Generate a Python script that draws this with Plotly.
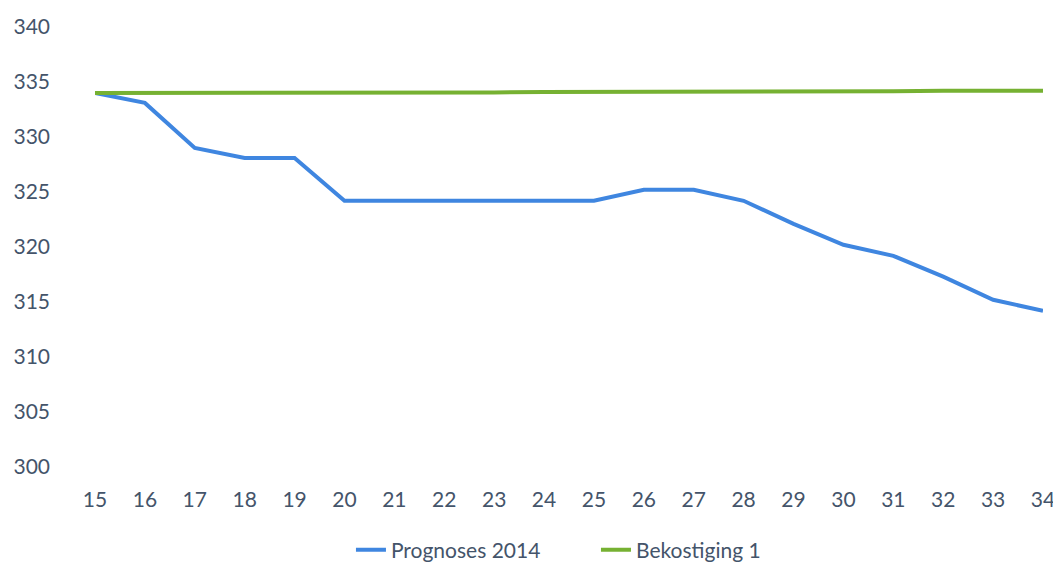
import plotly.graph_objects as go

years = list(range(15, 35))
prognoses_2014 = [334, 333.1, 329, 328.1, 328.1, 324.2, 324.2, 324.2, 324.2, 324.2,
                  324.2, 325.2, 325.2, 324.2, 322.1, 320.2, 319.2, 317.3, 315.2, 314.2]
bekostiging_1 = [334, 334, 334, 334, 334, 334, 334.05, 334.05, 334.05, 334.1,
                 334.1, 334.1, 334.1, 334.1, 334.15, 334.15, 334.15, 334.2, 334.2, 334.2]
y_ticks = [300, 305, 310, 315, 320, 325, 330, 335, 340]

txt = "#44546A"
font = "Lato, Calibri, 'Noto Sans', sans-serif"

fig = go.Figure()
fig.add_trace(go.Scatter(x=years, y=prognoses_2014, mode="lines", name="Prognoses 2014",
                         line=dict(color="#3F86E0", width=4)))
fig.add_trace(go.Scatter(x=years, y=bekostiging_1, mode="lines", name="Bekostiging 1",
                         line=dict(color="#76B132", width=4)))

# page body has an 8px margin, so the figure is sized/offset to compensate
fig.update_layout(
    width=1053, height=554,
    margin=dict(l=87, r=18, t=19, b=95, autoexpand=False),
    paper_bgcolor="white", plot_bgcolor="white",
    font=dict(family=font, size=21, color=txt),
    showlegend=True,
    legend=dict(orientation="h", x=0.270, xanchor="left", y=-0.1886, yanchor="middle",
                font=dict(size=21, color=txt), entrywidth=200, entrywidthmode="pixels"),
    xaxis=dict(range=[15, 34], tickmode="array", tickvals=years, ticktext=[str(y) for y in years],
               showgrid=False, zeroline=False, showline=False, ticks="", ticklabelstandoff=18,
               automargin=False),
    yaxis=dict(range=[300, 340], tickmode="array", tickvals=y_ticks, showgrid=False,
               zeroline=False, showline=False, ticks="", ticklabelstandoff=44,
               automargin=False),
)

fig.write_html("out.html")
